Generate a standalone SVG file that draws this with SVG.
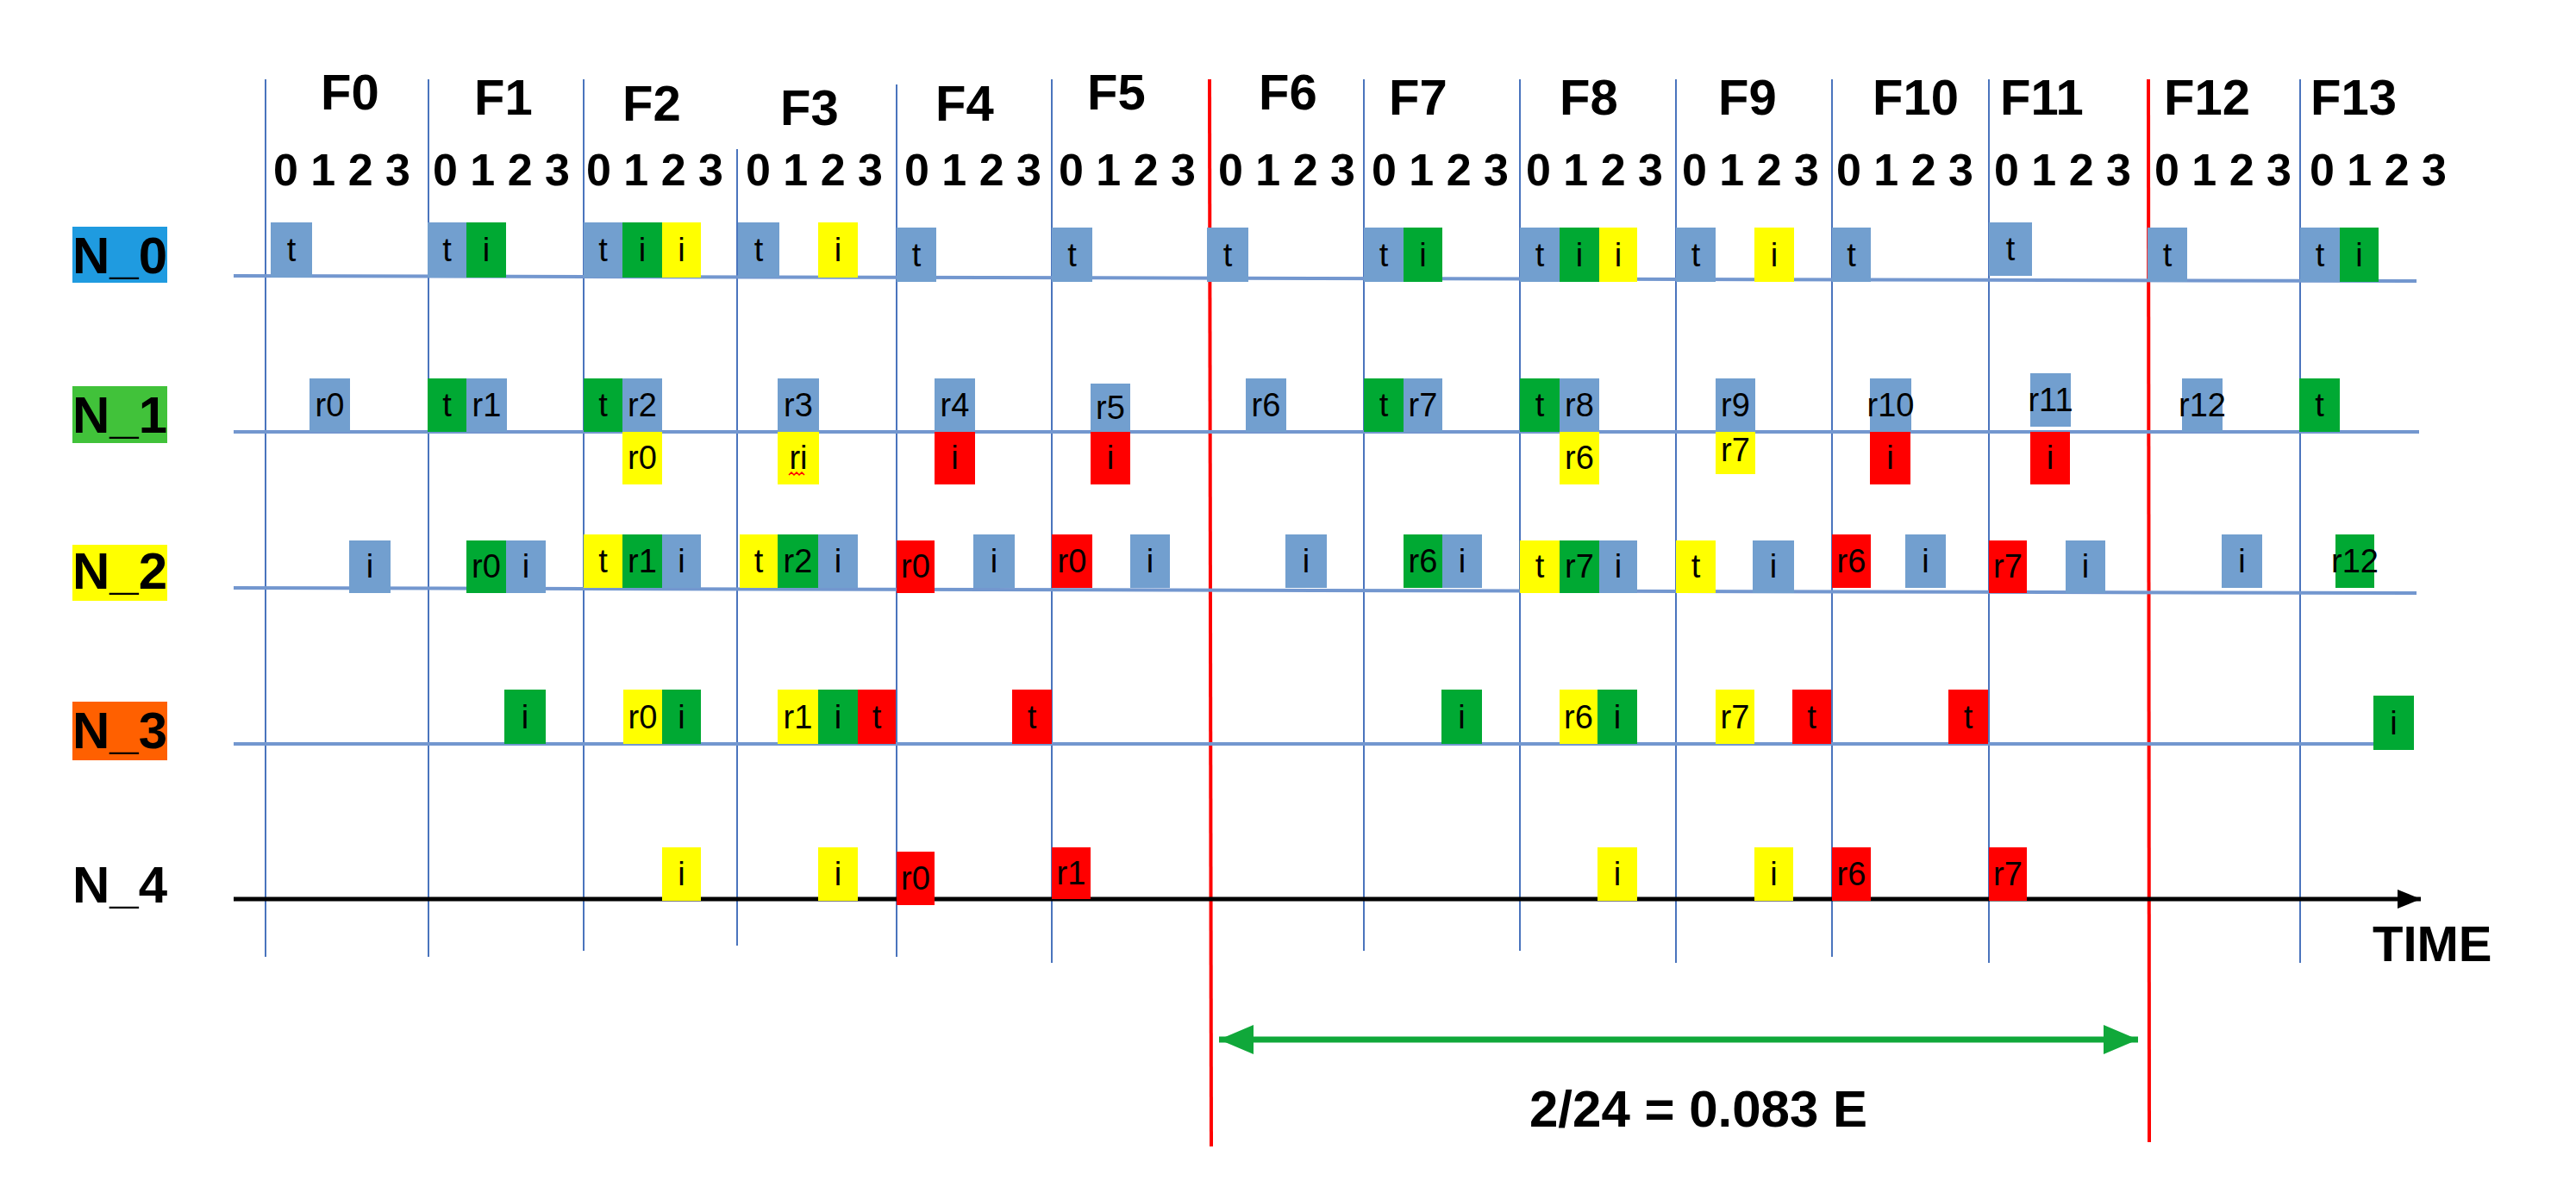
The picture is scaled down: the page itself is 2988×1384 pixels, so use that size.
<svg xmlns="http://www.w3.org/2000/svg" width="2988" height="1384" viewBox="0 0 2988 1384">
<style>
.fl{stroke:#4a74bd;stroke-width:2;fill:none}
.rl{stroke:#7397cf;stroke-width:4;fill:none}
.rd{stroke:#ff0000;stroke-width:4;fill:none}
.b{fill:#729fcf}.g{fill:#00a933}.y{fill:#ffff00}.r{fill:#ff0000}
.box text{font-family:"Liberation Sans",Arial,sans-serif;font-size:38px;text-anchor:middle;fill:#000}
.hd{font-family:"Liberation Sans",Arial,sans-serif;font-weight:bold;font-size:58px;fill:#000}
.dg{font-family:"Liberation Sans",Arial,sans-serif;font-weight:bold;font-size:52px;fill:#000}
.lb text{font-family:"Liberation Sans",Arial,sans-serif;font-weight:bold;font-size:60px;text-anchor:middle;fill:#000}
</style>
<defs>
<marker id="ga" markerUnits="userSpaceOnUse" markerWidth="44" markerHeight="34" refX="40" refY="17" orient="auto-start-reverse"><path d="M0,0 L40,17 L0,34 Z" fill="#10a83a"/></marker>
<marker id="ka" markerUnits="userSpaceOnUse" markerWidth="30" markerHeight="24" refX="27" refY="12" orient="auto"><path d="M0,1 L27,12 L0,23 Z" fill="#000"/></marker>
</defs>
<rect width="2988" height="1384" fill="#ffffff"/>

<g id="frame-lines">
<line class="fl" x1="308" y1="92" x2="308" y2="1110"/>
<line class="fl" x1="497" y1="92" x2="497" y2="1110"/>
<line class="fl" x1="677" y1="92" x2="677" y2="1103"/>
<line class="fl" x1="855" y1="173" x2="855" y2="1097"/>
<line class="fl" x1="1040" y1="98" x2="1040" y2="1110"/>
<line class="fl" x1="1220" y1="92" x2="1220" y2="1117"/>
<line class="fl" x1="1582" y1="92" x2="1582" y2="1103"/>
<line class="fl" x1="1763" y1="92" x2="1763" y2="1103"/>
<line class="fl" x1="1944" y1="92" x2="1944" y2="1117"/>
<line class="fl" x1="2125" y1="92" x2="2125" y2="1110"/>
<line class="fl" x1="2307" y1="92" x2="2307" y2="1117"/>
<line class="fl" x1="2668" y1="92" x2="2668" y2="1117"/>
<line class="rd" x1="1403" y1="92" x2="1405" y2="1330"/>
<line class="rd" x1="2492" y1="92" x2="2493" y2="1325"/>
</g>

<g id="row-lines">
<line class="rl" x1="271" y1="320" x2="2803" y2="326"/>
<line class="rl" x1="271" y1="501" x2="2806" y2="501"/>
<line class="rl" x1="271" y1="682" x2="2803" y2="688"/>
<line class="rl" x1="271" y1="863" x2="2800" y2="863"/>
<line x1="271" y1="1043" x2="2808" y2="1043" stroke="#000" stroke-width="5" marker-end="url(#ka)"/>
</g>

<g id="frame-labels">
<text class="hd" x="372" y="127">F0</text>
<text class="hd" x="550" y="133">F1</text>
<text class="hd" x="722" y="140">F2</text>
<text class="hd" x="905" y="145">F3</text>
<text class="hd" x="1085" y="140">F4</text>
<text class="hd" x="1261" y="127">F5</text>
<text class="hd" x="1460" y="127">F6</text>
<text class="hd" x="1611" y="133">F7</text>
<text class="hd" x="1809" y="133">F8</text>
<text class="hd" x="1993" y="133">F9</text>
<text class="hd" x="2172" y="133">F10</text>
<text class="hd" x="2320" y="133">F11</text>
<text class="hd" x="2510" y="133">F12</text>
<text class="hd" x="2680" y="133">F13</text>
</g>

<g id="slot-labels">
<text class="dg" x="317" y="215">0 1 2 3</text>
<text class="dg" x="502" y="215">0 1 2 3</text>
<text class="dg" x="680" y="215">0 1 2 3</text>
<text class="dg" x="865" y="215">0 1 2 3</text>
<text class="dg" x="1049" y="215">0 1 2 3</text>
<text class="dg" x="1228" y="215">0 1 2 3</text>
<text class="dg" x="1413" y="215">0 1 2 3</text>
<text class="dg" x="1591" y="215">0 1 2 3</text>
<text class="dg" x="1770" y="215">0 1 2 3</text>
<text class="dg" x="1951" y="215">0 1 2 3</text>
<text class="dg" x="2130" y="215">0 1 2 3</text>
<text class="dg" x="2313" y="215">0 1 2 3</text>
<text class="dg" x="2499" y="215">0 1 2 3</text>
<text class="dg" x="2679" y="215">0 1 2 3</text>
</g>

<g id="N_0" class="lb"><rect x="84" y="263" width="110" height="65" fill="#1f9be0"/><text x="139" y="317">N_0</text></g>
<g id="N_1" class="lb"><rect x="84" y="448" width="110" height="66" fill="#41c23a"/><text x="139" y="502">N_1</text></g>
<g id="N_2" class="lb"><rect x="84" y="632" width="110" height="65" fill="#ffff00"/><text x="139" y="683">N_2</text></g>
<g id="N_3" class="lb"><rect x="84" y="814" width="110" height="68" fill="#ff6000"/><text x="139" y="868">N_3</text></g>
<g id="N_4" class="lb"><text x="139" y="1047">N_4</text></g>

<g id="TIME"><text class="hd" x="2752" y="1115">TIME</text></g>

<!-- N_0 boxes -->
<g id="n0f0t" class="box"><rect class="b" x="314" y="258" width="48" height="64"/><text x="338" y="303">t</text></g>
<g id="n0f1t" class="box"><rect class="b" x="496" y="258" width="45" height="64"/><text x="518.5" y="303">t</text></g>
<g id="n0f1i" class="box"><rect class="g" x="541" y="258" width="46" height="64"/><text x="564" y="303">i</text></g>
<g id="n0f2t" class="box"><rect class="b" x="677" y="258" width="45" height="64"/><text x="699.5" y="303">t</text></g>
<g id="n0f2i1" class="box"><rect class="g" x="722" y="258" width="46" height="64"/><text x="745" y="303">i</text></g>
<g id="n0f2i2" class="box"><rect class="y" x="768" y="258" width="45" height="64"/><text x="790.5" y="303">i</text></g>
<g id="n0f3t" class="box"><rect class="b" x="856" y="258" width="48" height="64"/><text x="880" y="303">t</text></g>
<g id="n0f3i" class="box"><rect class="y" x="949" y="258" width="46" height="64"/><text x="972" y="303">i</text></g>
<g id="n0f4t" class="box"><rect class="b" x="1040" y="264" width="46" height="63"/><text x="1063" y="309">t</text></g>
<g id="n0f5t" class="box"><rect class="b" x="1220" y="264" width="47" height="63"/><text x="1243.5" y="309">t</text></g>
<g id="n0f6t" class="box"><rect class="b" x="1400" y="264" width="48" height="63"/><text x="1424" y="309">t</text></g>
<g id="n0f7t" class="box"><rect class="b" x="1582" y="264" width="46" height="63"/><text x="1605" y="309">t</text></g>
<g id="n0f7i" class="box"><rect class="g" x="1628" y="264" width="45" height="63"/><text x="1650.5" y="309">i</text></g>
<g id="n0f8t" class="box"><rect class="b" x="1763" y="264" width="46" height="63"/><text x="1786" y="309">t</text></g>
<g id="n0f8i1" class="box"><rect class="g" x="1809" y="264" width="46" height="63"/><text x="1832" y="309">i</text></g>
<g id="n0f8i2" class="box"><rect class="y" x="1855" y="264" width="44" height="63"/><text x="1877" y="309">i</text></g>
<g id="n0f9t" class="box"><rect class="b" x="1944" y="264" width="46" height="63"/><text x="1967" y="309">t</text></g>
<g id="n0f9i" class="box"><rect class="y" x="2035" y="264" width="46" height="63"/><text x="2058" y="309">i</text></g>
<g id="n0f10t" class="box"><rect class="b" x="2125" y="264" width="45" height="63"/><text x="2147.5" y="309">t</text></g>
<g id="n0f11t" class="box"><rect class="b" x="2307" y="258" width="50" height="62"/><text x="2332" y="302">t</text></g>
<g id="n0f12t" class="box"><rect class="b" x="2491" y="264" width="46" height="63"/><text x="2514" y="309">t</text></g>
<g id="n0f13t" class="box"><rect class="b" x="2668" y="264" width="46" height="63"/><text x="2691" y="309">t</text></g>
<g id="n0f13i" class="box"><rect class="g" x="2714" y="264" width="45" height="63"/><text x="2736.5" y="309">i</text></g>

<!-- N_1 boxes -->
<g id="n1f0r0" class="box"><rect class="b" x="359" y="439" width="47" height="62"/><text x="382.5" y="483">r0</text></g>
<g id="n1f1t" class="box"><rect class="g" x="496" y="439" width="45" height="62"/><text x="518.5" y="483">t</text></g>
<g id="n1f1r1" class="box"><rect class="b" x="541" y="439" width="47" height="62"/><text x="564.5" y="483">r1</text></g>
<g id="n1f2t" class="box"><rect class="g" x="677" y="439" width="45" height="62"/><text x="699.5" y="483">t</text></g>
<g id="n1f2r2" class="box"><rect class="b" x="722" y="439" width="46" height="62"/><text x="745" y="483">r2</text></g>
<g id="n1f2r0" class="box"><rect class="y" x="722" y="501" width="46" height="61"/><text x="745" y="544">r0</text></g>
<g id="n1f3r3" class="box"><rect class="b" x="902" y="439" width="48" height="62"/><text x="926" y="483">r3</text></g>
<g id="n1f3ri" class="box"><rect class="y" x="902" y="501" width="48" height="61"/><text x="926" y="544">ri</text><path d="M915,551 l3,-3 l3,3 l3,-3 l3,3 l3,-3 l3,3" stroke="#ff0000" stroke-width="1.5" fill="none"/></g>
<g id="n1f4r4" class="box"><rect class="b" x="1084" y="439" width="47" height="62"/><text x="1107.5" y="483">r4</text></g>
<g id="n1f4i" class="box"><rect class="r" x="1084" y="501" width="47" height="61"/><text x="1107.5" y="544">i</text></g>
<g id="n1f5r5" class="box"><rect class="b" x="1265" y="445" width="46" height="56"/><text x="1288" y="486">r5</text></g>
<g id="n1f5i" class="box"><rect class="r" x="1265" y="501" width="46" height="61"/><text x="1288" y="544">i</text></g>
<g id="n1f6r6" class="box"><rect class="b" x="1445" y="439" width="47" height="62"/><text x="1468.5" y="483">r6</text></g>
<g id="n1f7t" class="box"><rect class="g" x="1582" y="439" width="46" height="62"/><text x="1605" y="483">t</text></g>
<g id="n1f7r7" class="box"><rect class="b" x="1628" y="439" width="45" height="62"/><text x="1650.5" y="483">r7</text></g>
<g id="n1f8t" class="box"><rect class="g" x="1763" y="439" width="46" height="62"/><text x="1786" y="483">t</text></g>
<g id="n1f8r8" class="box"><rect class="b" x="1809" y="439" width="46" height="62"/><text x="1832" y="483">r8</text></g>
<g id="n1f8r6" class="box"><rect class="y" x="1809" y="501" width="46" height="61"/><text x="1832" y="544">r6</text></g>
<g id="n1f9r9" class="box"><rect class="b" x="1990" y="439" width="46" height="62"/><text x="2013" y="483">r9</text></g>
<g id="n1f9r7" class="box"><rect class="y" x="1990" y="501" width="46" height="49"/><text x="2013" y="535">r7</text></g>
<g id="n1f10r10" class="box"><rect class="b" x="2169" y="439" width="48" height="62"/><text x="2193" y="483">r10</text></g>
<g id="n1f10i" class="box"><rect class="r" x="2169" y="501" width="47" height="61"/><text x="2192.5" y="544">i</text></g>
<g id="n1f11r11" class="box"><rect class="b" x="2355" y="433" width="47" height="62"/><text x="2378.5" y="477">r11</text></g>
<g id="n1f11i" class="box"><rect class="r" x="2355" y="501" width="46" height="61"/><text x="2378" y="544">i</text></g>
<g id="n1f12r12" class="box"><rect class="b" x="2531" y="439" width="47" height="62"/><text x="2554.5" y="483">r12</text></g>
<g id="n1f13t" class="box"><rect class="g" x="2667" y="439" width="47" height="62"/><text x="2690.5" y="483">t</text></g>

<!-- N_2 boxes -->
<g id="n2f0i" class="box"><rect class="b" x="405" y="627" width="48" height="61"/><text x="429" y="670">i</text></g>
<g id="n2f1r0" class="box"><rect class="g" x="541" y="627" width="46" height="61"/><text x="564" y="670">r0</text></g>
<g id="n2f1i" class="box"><rect class="b" x="587" y="627" width="46" height="61"/><text x="610" y="670">i</text></g>
<g id="n2f2t" class="box"><rect class="y" x="677" y="620" width="45" height="62"/><text x="699.5" y="664">t</text></g>
<g id="n2f2r1" class="box"><rect class="g" x="722" y="620" width="46" height="62"/><text x="745" y="664">r1</text></g>
<g id="n2f2i" class="box"><rect class="b" x="768" y="620" width="45" height="62"/><text x="790.5" y="664">i</text></g>
<g id="n2f3t" class="box"><rect class="y" x="858" y="620" width="44" height="62"/><text x="880" y="664">t</text></g>
<g id="n2f3r2" class="box"><rect class="g" x="902" y="620" width="47" height="62"/><text x="925.5" y="664">r2</text></g>
<g id="n2f3i" class="box"><rect class="b" x="949" y="620" width="46" height="62"/><text x="972" y="664">i</text></g>
<g id="n2f4r0" class="box"><rect class="r" x="1040" y="627" width="44" height="61"/><text x="1062" y="670">r0</text></g>
<g id="n2f4i" class="box"><rect class="b" x="1129" y="620" width="48" height="62"/><text x="1153" y="664">i</text></g>
<g id="n2f5r0" class="box"><rect class="r" x="1220" y="620" width="47" height="62"/><text x="1243.5" y="664">r0</text></g>
<g id="n2f5i" class="box"><rect class="b" x="1311" y="620" width="46" height="62"/><text x="1334" y="664">i</text></g>
<g id="n2f6i" class="box"><rect class="b" x="1491" y="620" width="48" height="62"/><text x="1515" y="664">i</text></g>
<g id="n2f7r6" class="box"><rect class="g" x="1628" y="620" width="45" height="62"/><text x="1650.5" y="664">r6</text></g>
<g id="n2f7i" class="box"><rect class="b" x="1673" y="620" width="46" height="62"/><text x="1696" y="664">i</text></g>
<g id="n2f8t" class="box"><rect class="y" x="1763" y="627" width="46" height="61"/><text x="1786" y="670">t</text></g>
<g id="n2f8r7" class="box"><rect class="g" x="1809" y="627" width="46" height="61"/><text x="1832" y="670">r7</text></g>
<g id="n2f8i" class="box"><rect class="b" x="1855" y="627" width="44" height="61"/><text x="1877" y="670">i</text></g>
<g id="n2f9t" class="box"><rect class="y" x="1944" y="627" width="46" height="61"/><text x="1967" y="670">t</text></g>
<g id="n2f9i" class="box"><rect class="b" x="2033" y="627" width="48" height="61"/><text x="2057" y="670">i</text></g>
<g id="n2f10r6" class="box"><rect class="r" x="2125" y="620" width="45" height="62"/><text x="2147.5" y="664">r6</text></g>
<g id="n2f10i" class="box"><rect class="b" x="2210" y="620" width="47" height="62"/><text x="2233.5" y="664">i</text></g>
<g id="n2f11r7" class="box"><rect class="r" x="2307" y="627" width="44" height="61"/><text x="2329" y="670">r7</text></g>
<g id="n2f11i" class="box"><rect class="b" x="2396" y="627" width="46" height="61"/><text x="2419" y="670">i</text></g>
<g id="n2f12i" class="box"><rect class="b" x="2577" y="620" width="47" height="62"/><text x="2600.5" y="664">i</text></g>
<g id="n2f13r12" class="box"><rect class="g" x="2709" y="620" width="45" height="62"/><text x="2731.5" y="664">r12</text></g>

<!-- N_3 boxes -->
<g id="n3f1i" class="box"><rect class="g" x="585" y="800" width="48" height="63"/><text x="609" y="845">i</text></g>
<g id="n3f2r0" class="box"><rect class="y" x="723" y="800" width="45" height="63"/><text x="745.5" y="845">r0</text></g>
<g id="n3f2i" class="box"><rect class="g" x="768" y="800" width="45" height="63"/><text x="790.5" y="845">i</text></g>
<g id="n3f3r1" class="box"><rect class="y" x="902" y="800" width="47" height="63"/><text x="925.5" y="845">r1</text></g>
<g id="n3f3i" class="box"><rect class="g" x="949" y="800" width="46" height="63"/><text x="972" y="845">i</text></g>
<g id="n3f3t" class="box"><rect class="r" x="995" y="800" width="44" height="63"/><text x="1017" y="845">t</text></g>
<g id="n3f4t" class="box"><rect class="r" x="1174" y="800" width="46" height="63"/><text x="1197" y="845">t</text></g>
<g id="n3f7i" class="box"><rect class="g" x="1672" y="800" width="47" height="63"/><text x="1695.5" y="845">i</text></g>
<g id="n3f8r6" class="box"><rect class="y" x="1809" y="800" width="44" height="63"/><text x="1831" y="845">r6</text></g>
<g id="n3f8i" class="box"><rect class="g" x="1853" y="800" width="46" height="63"/><text x="1876" y="845">i</text></g>
<g id="n3f9r7" class="box"><rect class="y" x="1990" y="800" width="45" height="63"/><text x="2012.5" y="845">r7</text></g>
<g id="n3f9t" class="box"><rect class="r" x="2079" y="800" width="45" height="63"/><text x="2101.5" y="845">t</text></g>
<g id="n3f10t" class="box"><rect class="r" x="2260" y="800" width="46" height="63"/><text x="2283" y="845">t</text></g>
<g id="n3f13i" class="box"><rect class="g" x="2753" y="807" width="47" height="63"/><text x="2776.5" y="852">i</text></g>

<!-- N_4 boxes -->
<g id="n4f2i" class="box"><rect class="y" x="768" y="983" width="45" height="62"/><text x="790.5" y="1027">i</text></g>
<g id="n4f3i" class="box"><rect class="y" x="949" y="983" width="46" height="62"/><text x="972" y="1027">i</text></g>
<g id="n4f4r0" class="box"><rect class="r" x="1040" y="988" width="44" height="62"/><text x="1062" y="1032">r0</text></g>
<g id="n4f5r1" class="box"><rect class="r" x="1220" y="983" width="45" height="60"/><text x="1242.5" y="1026">r1</text></g>
<g id="n4f8i" class="box"><rect class="y" x="1853" y="983" width="46" height="62"/><text x="1876" y="1027">i</text></g>
<g id="n4f9i" class="box"><rect class="y" x="2035" y="983" width="45" height="62"/><text x="2057.5" y="1027">i</text></g>
<g id="n4f10r6" class="box"><rect class="r" x="2125" y="983" width="45" height="62"/><text x="2147.5" y="1027">r6</text></g>
<g id="n4f11r7" class="box"><rect class="r" x="2307" y="983" width="44" height="62"/><text x="2329" y="1027">r7</text></g>

<g id="connectors">
<line x1="1414" y1="1206" x2="2480" y2="1206" stroke="#10a83a" stroke-width="7" marker-start="url(#ga)" marker-end="url(#ga)"/>
</g>
<g id="span-label"><text class="hd" x="1970" y="1307" text-anchor="middle" style="font-size:60px">2/24 = 0.083 E</text></g>
</svg>
